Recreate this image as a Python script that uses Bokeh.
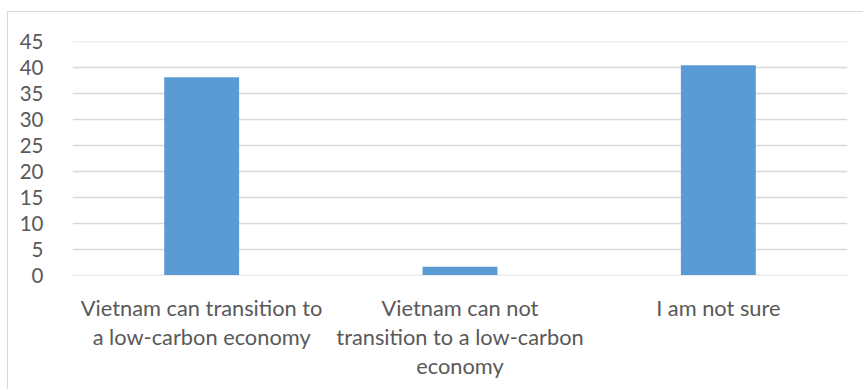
from bokeh.plotting import figure
from bokeh.models import ColumnDataSource, FixedTicker, LinearAxis
from bokeh.embed import file_html
from bokeh.resources import INLINE

# Survey responses (percent)
categories = [
    "Vietnam can transition to\na low-carbon economy",
    "Vietnam can not\ntransition to a low-carbon\neconomy",
    "I am not sure",
]
shares = [38.2, 1.6, 40.5]
y_ticks = [0, 5, 10, 15, 20, 25, 30, 35, 40, 45]

FONT = "Lato"
GREY_TEXT = "#595959"
GRID = "#d9d9d9"
BAR = "#5b9bd5"

# each category occupies one unit slot, bar centred in it
xpos = [i + 0.5 for i in range(len(categories))]
src = ColumnDataSource(dict(x=xpos, share=shares))

p = figure(x_range=(0, len(categories)), y_range=(-0.08, 45.08),
           width=856, height=378,
           output_backend="svg", toolbar_location=None,
           min_border_left=64, min_border_right=17,
           min_border_top=29, min_border_bottom=115)
p.margin = (11, 0, 0, 7)
p.styles = {"border-left": f"1px solid {GRID}", "border-top": f"1px solid {GRID}"}
p.outline_line_color = None
p.background_fill_color = "white"
p.border_fill_color = "white"

p.vbar(x="x", top="share", width=0.29, source=src,
       fill_color=BAR, line_color=None)


def style_x(ax, standoff):
    ax.ticker = FixedTicker(ticks=xpos)
    ax.axis_line_color = None
    ax.major_tick_line_color = None
    ax.minor_tick_line_color = None
    ax.major_label_standoff = standoff
    ax.major_label_text_font = FONT
    ax.major_label_text_font_size = "21.8px"
    ax.major_label_text_color = GREY_TEXT


# category labels, one stacked axis per text line
split = [lab.split("\n") for lab in categories]
n_lines = max(len(s) for s in split)
for i in range(n_lines):
    overrides = {x: (s[i] if i < len(s) else " ") for x, s in zip(xpos, split)}
    ax = p.xaxis[0] if i == 0 else LinearAxis()
    style_x(ax, 12 if i == 0 else -7)
    ax.major_label_overrides = overrides
    if i > 0:
        p.add_layout(ax, "below")

p.xgrid.visible = False

yax = p.yaxis[0]
yax.ticker = FixedTicker(ticks=y_ticks)
yax.axis_line_color = None
yax.major_tick_line_color = None
yax.minor_tick_line_color = None
yax.major_label_standoff = 23
yax.major_label_text_font = FONT
yax.major_label_text_font_size = "20.5px"
yax.major_label_text_color = GREY_TEXT

p.ygrid.ticker = FixedTicker(ticks=y_ticks)
p.ygrid.grid_line_color = GRID
p.ygrid.grid_line_width = 1.5

open("out.html", "w").write(file_html(p, INLINE))
